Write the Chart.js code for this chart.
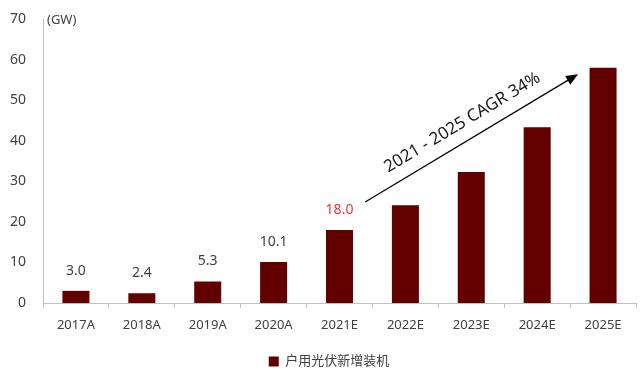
<!DOCTYPE html>
<html>
<head>
<meta charset="utf-8">
<script src="https://cdn.jsdelivr.net/npm/chart.js@4"></script>
<style>
html,body{margin:0;padding:0;background:#fff;}
#wrap{width:640px;height:373px;position:relative;}
</style>
</head>
<body>
<div id="wrap"><canvas id="c" width="640" height="373"></canvas></div>
<script>
const categories = ["2017A","2018A","2019A","2020A","2021E","2022E","2023E","2024E","2025E"];
const installs = [3.0, 2.4, 5.3, 10.1, 18.0, 24.1, 32.3, 43.3, 58.0];
const valueLabels = ["3.0","2.4","5.3","10.1","18.0",null,null,null,null];
const seriesName = "户用光伏新增装机";
const yTicks = [0,10,20,30,40,50,60,70];
const unitLabel = "(GW)";
const cagrText = "2021 - 2025 CAGR 34%";
// arrow start/end in data space (category index, value)
const arrowFrom = [4.39, 24.9];
const arrowTo = [7.62, 56.4];

const FONT = "'Noto Sans', 'Noto Sans CJK SC', sans-serif";
const TEXT = "#404040";
const BAR = "#620000";

const legendShift = {
  id: 'legendShift',
  afterLayout(chart) {
    const lg = chart.legend;
    if (lg) { lg.left += 11; lg.right += 11; }
  }
};

const overlay = {
  id: 'overlay',
  afterDatasetsDraw(chart) {
    const ctx = chart.ctx;
    const xs = chart.scales.x, ys = chart.scales.y;
    const meta = chart.getDatasetMeta(0);
    ctx.save();
    ctx.font = "14px " + FONT;
    ctx.textAlign = "center";
    ctx.textBaseline = "middle";
    meta.data.forEach((bar, i) => {
      const t = valueLabels[i];
      if (!t) return;
      ctx.fillStyle = (i === 4) ? "#e8363a" : TEXT;
      ctx.fillText(t, bar.x, bar.y - 20);
    });
    // unit label
    ctx.fillStyle = TEXT;
    ctx.font = "13px " + FONT;
    ctx.textAlign = "left";
    ctx.fillText(unitLabel, chart.chartArea.left + 4, ys.getPixelForValue(70) + 1);
    // arrow
    const frac = (v) => {
      const i = Math.floor(v), f = v - i;
      const a = xs.getPixelForValue(i), b = xs.getPixelForValue(i + 1);
      return a + (b - a) * f;
    };
    const x1 = frac(arrowFrom[0]), y1 = ys.getPixelForValue(arrowFrom[1]);
    const x2 = frac(arrowTo[0]), y2 = ys.getPixelForValue(arrowTo[1]);
    const ang = Math.atan2(y2 - y1, x2 - x1);
    ctx.strokeStyle = "#000";
    ctx.fillStyle = "#000";
    ctx.lineWidth = 1.3;
    const hl = 12;
    ctx.beginPath();
    ctx.moveTo(x1, y1);
    ctx.lineTo(x2 - hl * 0.8 * Math.cos(ang), y2 - hl * 0.8 * Math.sin(ang));
    ctx.stroke();
    ctx.beginPath();
    ctx.moveTo(x2, y2);
    ctx.lineTo(x2 - hl * Math.cos(ang) + 5 * Math.sin(ang), y2 - hl * Math.sin(ang) - 5 * Math.cos(ang));
    ctx.lineTo(x2 - hl * Math.cos(ang) - 5 * Math.sin(ang), y2 - hl * Math.sin(ang) + 5 * Math.cos(ang));
    ctx.closePath();
    ctx.fill();
    // text along arrow
    const mx = x1 + (x2 - x1) * 0.5, my = y1 + (y2 - y1) * 0.5;
    ctx.translate(mx + 18 * Math.sin(ang), my - 18 * Math.cos(ang));
    ctx.rotate(ang);
    ctx.font = "17px " + FONT;
    ctx.fillStyle = "#1a1a1a";
    ctx.textAlign = "center";
    ctx.textBaseline = "middle";
    ctx.fillText(cagrText, 0, 0);
    ctx.restore();
  }
};

new Chart(document.getElementById('c'), {
  type: 'bar',
  data: {
    labels: categories,
    datasets: [{
      label: seriesName,
      data: installs,
      backgroundColor: BAR,
      borderWidth: 0,
      barPercentage: 0.41,
      categoryPercentage: 1.0
    }]
  },
  options: {
    responsive: false,
    animation: false,
    devicePixelRatio: 1,
    layout: { padding: { left: 0, right: 4, top: 19, bottom: -5 } },
    plugins: {
      legend: {
        position: 'bottom',
        labels: {
          font: { family: FONT, size: 13 },
          color: TEXT,
          boxWidth: 10,
          boxHeight: 10,
          padding: 10
        }
      },
      tooltip: { enabled: false }
    },
    scales: {
      x: {
        grid: { display: true, drawOnChartArea: false, drawTicks: true, tickLength: 5, color: "#bfbfbf", offset: true },
        border: { display: true, color: "#bfbfbf", width: 1 },
        ticks: { font: { family: FONT, size: 13 }, color: TEXT, padding: 9, maxRotation: 0 },
        afterFit(s) { s.height = 42; s.paddingLeft = 0; s.paddingRight = 0; }
      },
      y: {
        min: 0, max: 70,
        afterBuildTicks(s) { s.ticks = yTicks.map(v => ({ value: v })); },
        grid: { display: false, drawTicks: false },
        border: { display: true, color: "#bfbfbf", width: 1 },
        ticks: { font: { family: FONT, size: 14 }, color: TEXT, padding: 17 },
        afterFit(s) { s.width = 43; s.paddingTop = 0; s.paddingBottom = 0; }
      }
    }
  },
  plugins: [overlay, legendShift]
});
</script>
</body>
</html>
